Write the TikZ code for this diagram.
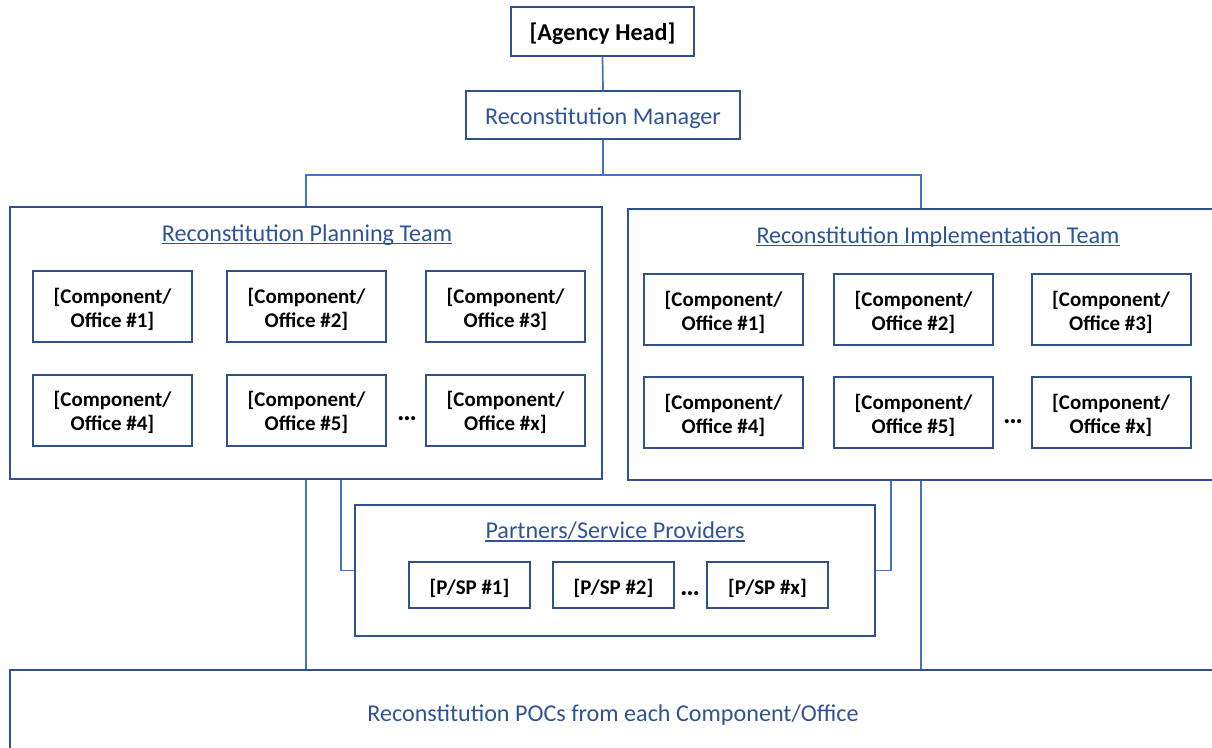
\documentclass[tikz,border=0pt]{standalone}
\usepackage{fontspec}
\setmainfont{Carlito}
\usetikzlibrary{calc}
\definecolor{bordercol}{HTML}{2F528F}
\definecolor{textblue}{HTML}{2F5496}
\definecolor{linecol}{HTML}{4472C4}
\newcommand\twoline[2]{\raisebox{-2.8pt}[\height][\depth]{\begin{tabular}{@{}c@{}}#1\\#2\end{tabular}}}
\tikzset{
  box/.style={draw=bordercol, line width=1.5pt, inner sep=0pt, align=center},
  comp/.style={box, minimum width=119.25pt, minimum height=53.25pt,
    font=\bfseries\fontsize{15.7}{18}\selectfont, text=black},
  psp/.style={box, minimum width=90.75pt, minimum height=34pt,
    font=\bfseries\fontsize{15.7}{18}\selectfont, text=black,
    text height=14.2pt, text depth=0pt},
  bluefont/.style={font=\fontsize{18.1}{21}\selectfont, text=textblue},
  bluetxt/.style={bluefont, inner sep=0pt, anchor=base},
  dots/.style={font=\bfseries\fontsize{21}{24}\selectfont, inner sep=0pt, anchor=base},
  conn/.style={draw=linecol, line width=1.3pt},
  uline/.style={draw=textblue, line width=1.2pt},
}
\begin{document}
\begin{tikzpicture}[x=0.75pt,y=-0.75pt]
\useasboundingbox (0,0) rectangle (1212,747);
\clip (0,0) rectangle (1212,747);
\fill[white] (0,0) rectangle (1212,747);

% top
\node[box, minimum width=137.25pt, minimum height=36.75pt,
  font=\bfseries\fontsize{18.1}{21}\selectfont, text height=13.8pt, text depth=0pt] (ah) at (602.5,31.5) {[Agency Head]};
\node[box, minimum width=205.5pt, minimum height=36pt, bluefont,
  text height=13.5pt, text depth=0pt] (rm) at (603,115) {Reconstitution Manager};

% teams
\node[box, minimum width=444pt, minimum height=204pt] (pt) at (306,343) {};
\node[box, minimum width=439.5pt, minimum height=203.25pt] (it) at (921,344.5) {};
\node[bluetxt] (ptt) at (307,241) {Reconstitution Planning Team};
\node[bluetxt] (itt) at (938,243) {Reconstitution Implementation Team};
\draw[uline] ([yshift=-2pt]ptt.base west) -- ([yshift=-2pt]ptt.base east);
\draw[uline] ([yshift=-2pt]itt.base west) -- ([yshift=-2pt]itt.base east);

% planning components
\node[comp] (p1) at (112.5,306.5) {\twoline{[Component/}{Office \#1]}};
\node[comp] (p2) at (306.5,306.5) {\twoline{[Component/}{Office \#2]}};
\node[comp] (p3) at (505.5,306.5) {\twoline{[Component/}{Office \#3]}};
\node[comp] (p4) at (112.5,410) {\twoline{[Component/}{Office \#4]}};
\node[comp] (p5) at (306.5,410) {\twoline{[Component/}{Office \#5]}};
\node[comp] (px) at (505.5,410) {\twoline{[Component/}{Office \#x]}};
\node[dots] (pd) at (407,420) {…};

% implementation components
\node[comp] (i1) at (723.5,309.5) {\twoline{[Component/}{Office \#1]}};
\node[comp] (i2) at (913.5,309.5) {\twoline{[Component/}{Office \#2]}};
\node[comp] (i3) at (1111,309.5) {\twoline{[Component/}{Office \#3]}};
\node[comp] (i4) at (723.5,412.5) {\twoline{[Component/}{Office \#4]}};
\node[comp] (i5) at (913.5,412.5) {\twoline{[Component/}{Office \#5]}};
\node[comp] (ix) at (1111,412.5) {\twoline{[Component/}{Office \#x]}};
\node[dots] (id) at (1013,423) {…};

% partners
\node[box, minimum width=390pt, minimum height=98.25pt] (ps) at (615,570.5) {};
\node[bluetxt] (pst) at (615,538.5) {Partners/Service Providers};
\draw[uline] ([yshift=-2pt]pst.base west) -- ([yshift=-2pt]pst.base east);
\node[psp] (s1) at (469.5,585) {[P/SP \#1]};
\node[psp] (s2) at (613.5,585) {[P/SP \#2]};
\node[psp] (sx) at (767.5,585) {[P/SP \#x]};
\node[dots] (sd) at (690,595) {…};

% bottom
\node[box, minimum width=904.5pt, minimum height=66pt] (pocs) at (613,714) {};
\node[bluetxt] (pocst) at (613,721.5) {Reconstitution POCs from each Component/Office};

% connectors
\coordinate (j) at (603,175);
\draw[conn] (ah.south) -- (rm.north);
\draw[conn] (rm.south) -- (j);
\draw[conn] (j) -| (pt.north);
\draw[conn] (j) -| (it.north);
\draw[conn] (pt.south) -- (pt.south |- pocs.north);
\draw[conn] (it.south) -- (it.south |- pocs.north);
\draw[conn] ($(pt.south)+(35,0)$) |- (ps.west);
\draw[conn] ($(it.south)+(-30,0)$) |- (ps.east);
\end{tikzpicture}
\end{document}
